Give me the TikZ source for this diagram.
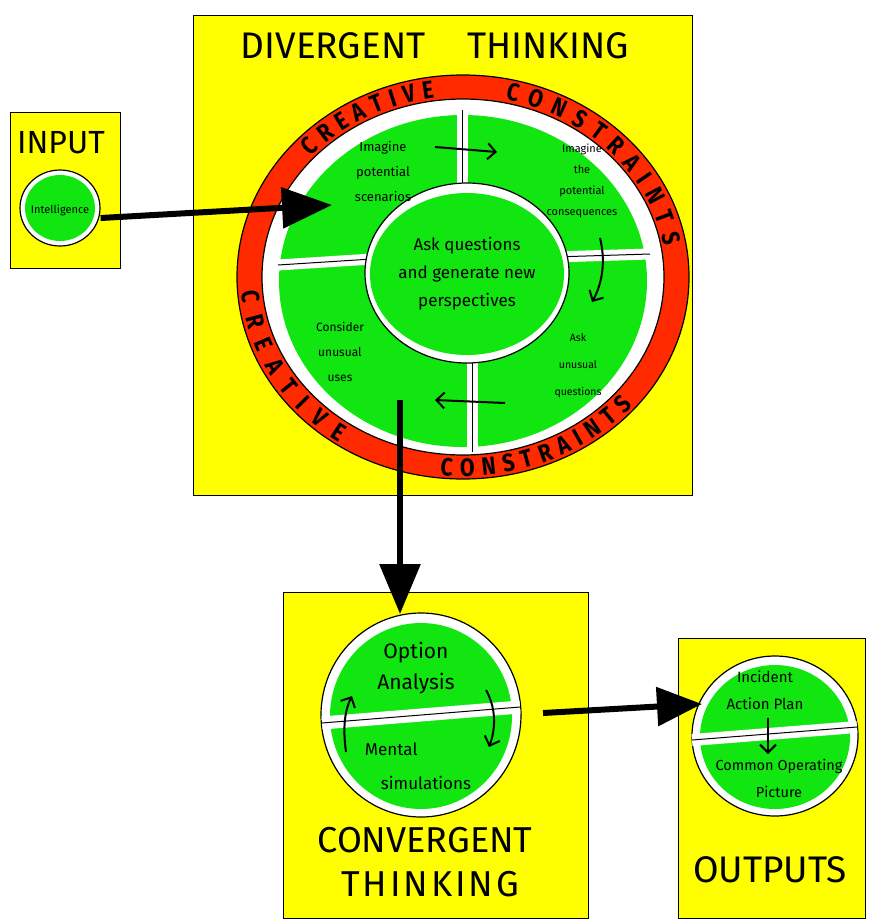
\documentclass[tikz,border=0pt]{standalone}
\usepackage{fontspec}
\setmainfont{Fira Sans}
\newfontfamily\titlefont{Fira Sans}
\newfontfamily\ringfont[FakeStretch=0.85]{Fira Sans}
\usetikzlibrary{arrows.meta,decorations.text,shapes.geometric}
\definecolor{hyellow}{HTML}{FFFF00}
\definecolor{hgreen}{HTML}{11E611}
\definecolor{hred}{HTML}{FF2A00}
\begin{document}
\begin{tikzpicture}[x=1pt,y=-1pt,
  panel/.style={draw=black, line width=1.2pt, fill=hyellow, inner sep=0pt},
  blob/.style={ellipse, draw=black, line width=1.2pt, fill=white, inner sep=0pt},
  gfill/.style={ellipse, fill=hgreen, draw=none, inner sep=0pt},
  title/.style={font=\titlefont\fontsize{37}{40}\selectfont, text=black},
  small/.style={font=\fontsize{12}{25}\selectfont, align=center},
  bigarrow/.style={line width=6pt, -{Triangle[length=50pt,width=40pt]}},
  thinarrow/.style={line width=2pt, -{Straight Barb[length=8pt,width=16pt]}},
  gap/.style={draw=white, line width=11pt},
  divline/.style={draw=black, line width=1pt},
  ringtext/.style={decorate, decoration={text along path, raise=-9pt, text align={fit to path}}},
]
\useasboundingbox (0,0) rectangle (869,922);

% ---------------- Divergent thinking panel
\node[panel, minimum width=499, minimum height=480, anchor=north west] (divpanel) at (193,15) {};
\node[title] (divtitle) at (435,46) {DIVERGENT\hspace{42pt}THINKING};

\node[ellipse, draw=black, line width=1.2pt, fill=hred, minimum width=452, minimum height=404, inner sep=0pt] (ring) at (463,277) {};
\node[blob, minimum width=402, minimum height=356] (ringin) at (463,277) {};
\node[gfill, minimum width=368, minimum height=332] (greenq) at (463,281) {};

% ring labels
\path[ringtext, decoration={text={|\ringfont\bfseries\fontsize{25}{25}\selectfont|CREATIVE}}]
  (ring.center) ++(222:213 and 190) arc[start angle=222, end angle=262, x radius=213, y radius=190];
\path[ringtext, decoration={text={|\ringfont\bfseries\fontsize{25}{25}\selectfont|CONSTRAINTS}}]
  (ring.center) ++(282:213 and 190) arc[start angle=282, end angle=350, x radius=213, y radius=190];
\path[ringtext, decoration={text={|\ringfont\bfseries\fontsize{25}{25}\selectfont|CREATIVE}}]
  (ring.center) ++(176:213 and 190) arc[start angle=176, end angle=124, x radius=213, y radius=190];
\path[ringtext, decoration={text={|\ringfont\bfseries\fontsize{25}{25}\selectfont|CONSTRAINTS}}]
  (ring.center) ++(96:213 and 190) arc[start angle=96, end angle=40, x radius=213, y radius=190];

% quadrant dividers
\coordinate (dt1) at (462,110); \coordinate (dt2) at (462,192);
\coordinate (dl1) at (278,265); \coordinate (dl2) at (372,259);
\coordinate (dr1) at (554,257); \coordinate (dr2) at (650,254);
\coordinate (db1) at (472,356); \coordinate (db2) at (472,452);
\draw[gap] (dt1) -- (dt2); \draw[divline] (dt1) -- (dt2);
\draw[gap] (dl1) -- (dl2); \draw[divline] (dl1) -- (dl2);
\draw[gap] (dr1) -- (dr2); \draw[divline] (dr1) -- (dr2);
\draw[gap] (db1) -- (db2); \draw[divline] (db1) -- (db2);

% centre circle
\node[blob, minimum width=204, minimum height=180] (centring) at (467,273) {};
\node[gfill, minimum width=186, minimum height=162, align=center, font=\fontsize{17}{28}\selectfont] (askq) at (467,274) {Ask questions\\and generate new\\perspectives};

% quadrant texts
\node[small, font=\fontsize{13}{25}\selectfont] (ips) at (383,172) {Imagine\\potential\\scenarios};
\node[small, font=\fontsize{11}{21}\selectfont] (ipc) at (582,181) {Imagine\\the\\potential\\consequences};
\node[small, font=\fontsize{10.5}{27}\selectfont] (aus) at (578,366) {Ask\\unusual\\questions};
\node[small] (cuu) at (340,352) {Consider\\unusual\\uses};

% cycle arrows
\coordinate (c1a) at (435,147); \coordinate (c1b) at (497,152);
\coordinate (c2a) at (600,238); \coordinate (c2b) at (592,302);
\coordinate (c3a) at (505,403); \coordinate (c3b) at (435,400);
\draw[thinarrow] (c1a) -- (c1b);
\draw[thinarrow] (c2a) .. controls (606,262) and (602,284) .. (c2b);
\draw[thinarrow] (c3a) -- (c3b);

% ---------------- Input panel
\node[panel, minimum width=110, minimum height=156, anchor=north west] (inpanel) at (10,112) {};
\node[title, font=\titlefont\fontsize{32}{34}\selectfont] (intitle) at (61,143) {INPUT};
\node[blob, minimum width=80, minimum height=76] (inring) at (60,208) {};
\node[gfill, minimum width=70, minimum height=66] (ingreen) at (60,208) {};
\node[font=\fontsize{11}{12}\selectfont, inner sep=0pt] (intel) at (60,210) {Intelligence};

% ---------------- Convergent panel
\node[panel, minimum width=305, minimum height=326, anchor=north west] (convpanel) at (283,592) {};
\node[blob, minimum width=200, minimum height=204] (convring) at (421,715) {};
\node[gfill, minimum width=182, minimum height=186] (convgreen) at (421,716) {};
\coordinate (cd1) at (322,723); \coordinate (cd2) at (520,707);
\draw[gap, line width=13pt] (cd1) -- (cd2); \draw[divline] (cd1) -- (cd2);
\node[font=\fontsize{21}{31}\selectfont, align=center] (oa) at (416,668) {Option\\Analysis};
\node[font=\fontsize{17}{34}\selectfont, align=left] (ms) at (418,766) {Mental\\\hspace{16pt}simulations};
\coordinate (m1a) at (346,752); \coordinate (m1b) at (352,696);
\coordinate (m2a) at (486,690); \coordinate (m2b) at (489,747);
\draw[thinarrow] (m1a) .. controls (343,730) and (344,712) .. (m1b);
\draw[thinarrow] (m2a) .. controls (496,708) and (496,728) .. (m2b);
\node[title, font=\titlefont\fontsize{36}{40}\selectfont] (convt1) at (425,840) {CONVERGENT};
\node[title, font=\titlefont\fontsize{36}{40}\selectfont\addfontfeatures{LetterSpace=8}] (convt2) at (430,884) {THINKING};

% ---------------- Outputs panel
\node[panel, minimum width=187, minimum height=280, anchor=north west] (outpanel) at (678,638) {};
\node[blob, minimum width=166, minimum height=160] (outring) at (775,736) {};
\node[gfill, minimum width=150, minimum height=144] (outgreen) at (775,737) {};
\coordinate (od1) at (692,740); \coordinate (od2) at (857,727);
\draw[gap, line width=12pt] (od1) -- (od2); \draw[divline] (od1) -- (od2);
\node[font=\fontsize{15}{27}\selectfont, align=center] (iap) at (765,690) {Incident\\Action Plan};
\node[font=\fontsize{14.5}{27}\selectfont, align=center] (cop) at (779,778) {Common Operating\\Picture};
\coordinate (o1a) at (768,718); \coordinate (o1b) at (768,754);
\draw[thinarrow] (o1a) -- (o1b);
\node[title] (outtitle) at (770,870) {OUTPUTS};

% ---------------- main flow arrows
\coordinate (divin) at (332,205);
\coordinate (divout) at (400,400);
\coordinate (convin) at (400,614);
\coordinate (convout) at (543,713);
\coordinate (outin) at (702,704);
\draw[bigarrow] ([yshift=-10pt]inring.east) -- (divin);
\draw[bigarrow] (divout) -- (convin);
\draw[bigarrow, -{Triangle[length=45pt,width=38pt]}] (convout) -- (outin);
\end{tikzpicture}
\end{document}
